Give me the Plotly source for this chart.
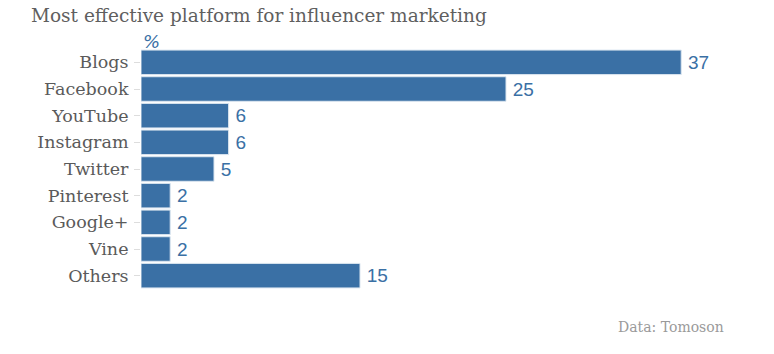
import plotly.graph_objects as go

categories = ["Blogs", "Facebook", "YouTube", "Instagram", "Twitter", "Pinterest", "Google+", "Vine", "Others"]
values = [37, 25, 6, 6, 5, 2, 2, 2, 15]

bar_color = "#3a70a5"

fig = go.Figure(go.Bar(
    x=values,
    y=categories,
    orientation="h",
    marker=dict(color=bar_color, line=dict(color="#dbe6f0", width=1)),
    text=["\u2009" + str(v) for v in values],
    textposition="outside",
    textfont=dict(family="Liberation Sans Narrow, Liberation Sans, sans-serif", size=19, color=bar_color),
    cliponaxis=False,
    width=0.92,
    hoverinfo="skip",
))

W, H = 774, 354
l, r, t, b = 141, 49, 49, 65

fig.update_layout(
    width=W, height=H,
    margin=dict(l=l, r=r, t=t, b=b),
    paper_bgcolor="white", plot_bgcolor="white",
    showlegend=False,
    xaxis=dict(range=[0, 40], visible=False, fixedrange=True),
    yaxis=dict(
        autorange="reversed",
        ticks="outside", ticklen=6, tickcolor="#dddddd", tickwidth=1,
        tickfont=dict(family="DejaVu Serif", size=17.5, color="#5a5a5a"),
        showline=False, showgrid=False, zeroline=False,
        ticklabelstandoff=2,
    ),
    annotations=[
        dict(text="Most effective platform for influencer marketing", x=29, y=3,
             xref="paper", yref="paper", xanchor="left", yanchor="top", showarrow=False,
             font=dict(family="DejaVu Serif", size=18.5, color="#5f5f5f")),
        dict(text="<i>%</i>", x=141, y=29, xref="paper", yref="paper",
             xanchor="left", yanchor="top", showarrow=False,
             font=dict(family="DejaVu Sans", size=18, color=bar_color)),
        dict(text="Data: Tomoson", x=726, y=317, xref="paper", yref="paper",
             xanchor="right", yanchor="top", showarrow=False,
             font=dict(family="DejaVu Serif", size=14, color="#9a9a9a")),
    ],
)

# convert pixel annotation positions to paper coordinates
pw, ph = W - l - r, H - t - b
for a in fig.layout.annotations:
    px, py = a.x, a.y
    a.x = (px - l) / pw
    a.y = 1 - (py - t) / ph

fig.write_html("out.html")
